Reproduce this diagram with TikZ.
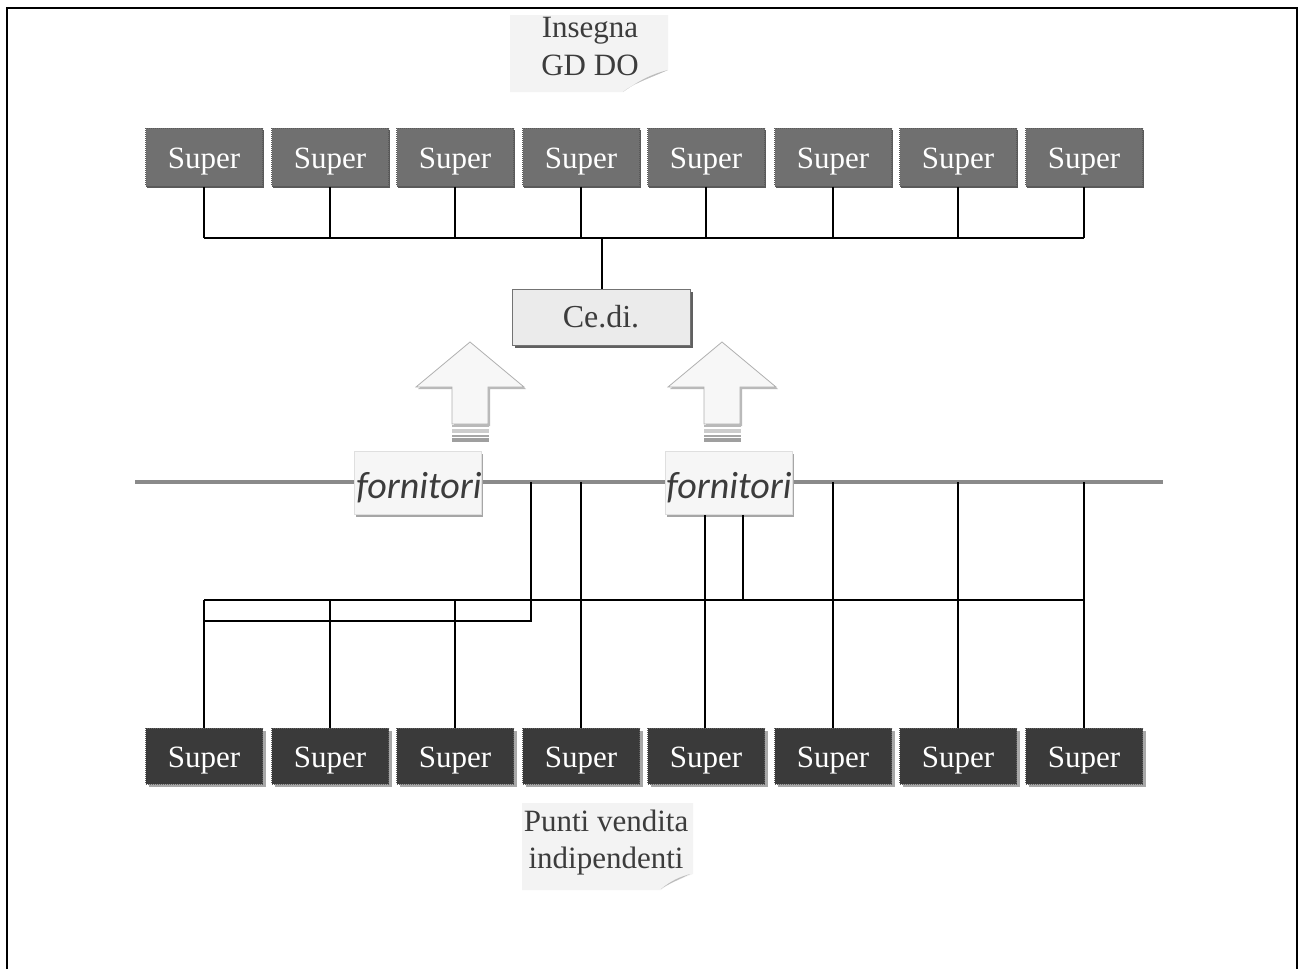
\documentclass[tikz,border=0pt]{standalone}
\usepackage{fontspec}
\setmainfont{Liberation Serif}
\newfontfamily\carl{Carlito}
\usetikzlibrary{shadows}
\definecolor{topfill}{HTML}{707070}
\definecolor{topedge}{HTML}{5A5A5A}
\definecolor{botfill}{HTML}{3A3A3A}
\definecolor{botshadow}{HTML}{A8A8A8}
\definecolor{cedifill}{HTML}{EBEBEB}
\definecolor{notefill}{HTML}{F3F3F3}
\definecolor{notetext}{HTML}{3C3C3C}
\definecolor{curl}{HTML}{BDBDBD}
\definecolor{fornfill}{HTML}{F6F6F6}
\definecolor{arrowfill}{HTML}{F7F7F7}
\definecolor{arrowedge}{HTML}{B0B0B0}
\definecolor{hline}{HTML}{8A8A8A}
\tikzset{
  serif30/.style={font=\fontsize{31}{37}\selectfont},
  supertop/.style={rectangle, fill=topfill, draw=topedge, densely dotted, line width=1pt,
    minimum width=117pt, minimum height=58pt, inner sep=0pt, text=white, serif30,
    text height=28pt, text depth=6pt,
    drop shadow={shadow xshift=1.5pt, shadow yshift=-1.5pt, fill=topedge, opacity=1}},
  superbot/.style={rectangle, fill=botfill, draw=botfill!80!white, densely dotted, line width=1pt,
    minimum width=117pt, minimum height=56pt, inner sep=0pt, text=white, serif30,
    text height=28pt, text depth=6pt,
    drop shadow={shadow xshift=3pt, shadow yshift=-3pt, fill=botshadow, opacity=1}},
  cedibox/.style={rectangle, fill=cedifill, draw=gray!90!black, line width=0.8pt,
    minimum width=178pt, minimum height=56pt, inner sep=0pt, text=notetext,
    font=\fontsize{32}{38}\selectfont, text height=26pt, text depth=6pt,
    drop shadow={shadow xshift=3pt, shadow yshift=-3pt, fill=gray!75!black, opacity=1}},
  fornbox/.style={rectangle, fill=fornfill, draw=gray!25, line width=0.6pt,
    minimum width=127pt, minimum height=63pt, inner sep=0pt,
    drop shadow={shadow xshift=2pt, shadow yshift=-2pt, fill=gray!70, opacity=1}},
  forntext/.style={inner sep=0pt, anchor=base, text=notetext, font=\carl\itshape\fontsize{38}{40}\selectfont},
  notetxt/.style={inner sep=0pt, text=notetext, serif30, text height=22pt, text depth=7pt},
  conn/.style={draw=black, line width=1.5pt},
  blockarrow/.style={fill=arrowfill, draw=arrowedge, line width=0.8pt,
    drop shadow={shadow xshift=2pt, shadow yshift=-2pt, fill=gray!55, opacity=1}}
}
\begin{document}
\begin{tikzpicture}[x=1pt,y=-1pt]
\useasboundingbox (0,0) rectangle (1300,969);
% frame
\draw[line width=1.6pt] (7,969) -- (7,8) -- (1297,8) -- (1297,969);

% note Insegna GD DO
\fill[notefill] (510,15) -- (668,15) -- (668,70) .. controls (650,78) and (632,84) .. (623,92) -- (510,92) -- cycle;
\fill[curl] (668,70) .. controls (650,78) and (632,84) .. (623,92) .. controls (640,80) and (652,74) .. cycle;
\node[notetxt] (ins1) at (590,29.5) {Insegna};
\node[notetxt] (ins2) at (590,67.5) {GD DO};

% top supers
\foreach \i/\x in {1/204,2/330,3/455,4/581,5/706,6/833,7/958,8/1084}{
  \node[supertop] (t\i) at (\x,157) {Super};
}
\coordinate (bus) at (0,238);
\foreach \i in {1,...,8}{
  \draw[conn] (t\i.south) -- (t\i.south |- bus);
}
\draw[conn] (t1.south |- bus) -- (t8.south |- bus);

% Ce.di.
\node[cedibox] (cedi) at (601,317) {Ce.di.};
\draw[conn] (cedi.north) ++(1,0) coordinate (cn) -- (cn |- bus);

% block arrows
\foreach \cx in {470,722}{
  \draw[blockarrow] (\cx,342) -- (\cx+54,387) -- (\cx+18,387) -- (\cx+18,424) -- (\cx-18,424) -- (\cx-18,387) -- (\cx-54,387) -- cycle;
  \fill[gray!55] (\cx-18,425) rectangle (\cx+19,427);
  \fill[gray!40] (\cx-18,428.5) rectangle (\cx+19,433);
  \fill[gray!70] (\cx-18,435) rectangle (\cx+19,436.5);
  \fill[gray!75] (\cx-18,438) rectangle (\cx+19,442);
}

% gray horizontal line
\coordinate (gl) at (135,482);
\coordinate (gr) at (1163,482);
\draw[hline, line width=4pt] (gl) -- (gr);

% bottom supers
\foreach \i/\x in {1/204,2/330,3/455,4/581,5/706,6/833,7/958,8/1084}{
  \node[superbot] (b\i) at (\x,756) {Super};
}

% bottom connectors
\coordinate (busA) at (0,600);
\coordinate (busB) at (0,621);
\coordinate (j1) at (531,482);
\foreach \i in {1,2,3}{
  \draw[conn] (b\i.north) -- (b\i.north |- busA);
}
\draw[conn] (b1.north |- busA) -- (b8.north |- busA);
\draw[conn] (b1.north |- busB) -- (j1 |- busB) -- (j1);
\foreach \i in {4,6,7,8}{
  \draw[conn] (b\i.north) -- (b\i.north |- gl);
}

% fornitori
\node[fornbox] (f1) at (417.5,483) {};
\node[fornbox] (f2) at (728.5,483) {};
\draw[conn] (b5.north) ++(-1,0) coordinate (b5n) -- (b5n |- f2.south);
\draw[conn] ([xshift=14.5pt]f2.south) coordinate (f2s) -- (f2s |- busA);
\node[forntext] (ft1) at (419,498) {fornitori};
\node[forntext] (ft2) at (729,498) {fornitori};

% note Punti vendita
\fill[notefill] (522,803) -- (693,803) -- (693,874) .. controls (678,880) and (668,884) .. (661,890) -- (522,890) -- cycle;
\fill[curl] (690,874) .. controls (678,880) and (668,884) .. (661,889) .. controls (672,880) and (680,877) .. cycle;
\node[notetxt] (pv1) at (606,823.5) {Punti vendita};
\node[notetxt] (pv2) at (606,860.5) {indipendenti};
\end{tikzpicture}
\end{document}
